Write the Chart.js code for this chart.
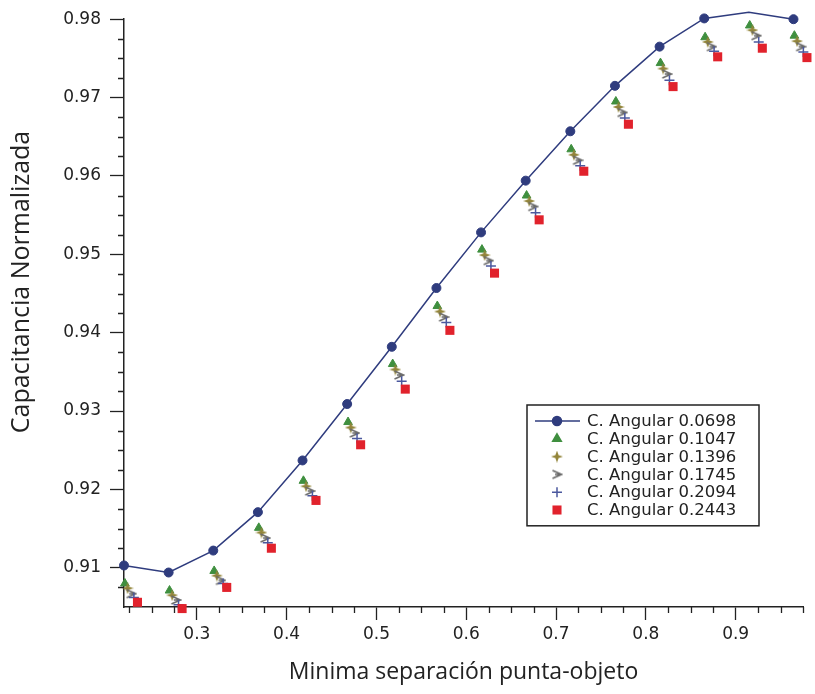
<!DOCTYPE html>
<html>
<head>
<meta charset="utf-8">
<script src="https://cdn.jsdelivr.net/npm/chart.js@4.4.1/dist/chart.umd.min.js"></script>
<style>
  html, body { margin: 0; padding: 0; background: #fff; }
</style>
</head>
<body>
<canvas id="capChart" width="815" height="694"></canvas>
<script>
// Legend labels, one per angular series
const seriesLabels = ['C. Angular 0.0698', 'C. Angular 0.1047', 'C. Angular 0.1396',
                      'C. Angular 0.1745', 'C. Angular 0.2094', 'C. Angular 0.2443'];

// Minima separacion punta-objeto (x) for each series
const sep0698 = [0.2189, 0.2686, 0.3183, 0.3680, 0.4177, 0.4674, 0.5171, 0.5668, 0.6165, 0.6662, 0.7159, 0.7656, 0.8153, 0.8650, 0.9147, 0.9644];
const sep1047 = [0.2199, 0.2696, 0.3193, 0.3690, 0.4187, 0.4684, 0.5181, 0.5678, 0.6175, 0.6672, 0.7169, 0.7666, 0.8163, 0.8660, 0.9157, 0.9654];
const sep1396 = [0.2229, 0.2726, 0.3223, 0.3720, 0.4217, 0.4714, 0.5211, 0.5708, 0.6205, 0.6702, 0.7199, 0.7696, 0.8193, 0.8690, 0.9187, 0.9684];
const sep1745 = [0.2269, 0.2766, 0.3263, 0.3760, 0.4257, 0.4754, 0.5251, 0.5748, 0.6245, 0.6742, 0.7239, 0.7736, 0.8233, 0.8730, 0.9227, 0.9724];
const sep2094 = [0.2299, 0.2796, 0.3293, 0.3790, 0.4287, 0.4784, 0.5281, 0.5778, 0.6275, 0.6772, 0.7269, 0.7766, 0.8263, 0.8760, 0.9257, 0.9754];
const sep2443 = [0.2339, 0.2836, 0.3333, 0.3830, 0.4327, 0.4824, 0.5321, 0.5818, 0.6315, 0.6812, 0.7309, 0.7806, 0.8303, 0.8800, 0.9297, 0.9794];

// Capacitancia normalizada (y) for each series
const cap0698 = [0.9103, 0.9094, 0.9122, 0.9171, 0.9237, 0.9309, 0.9382, 0.9457, 0.9528, 0.9594, 0.9657, 0.9715, 0.9765, 0.9801, 0.9809, 0.9800];
const cap1047 = [0.9080, 0.9071, 0.9096, 0.9151, 0.9211, 0.9286, 0.9360, 0.9434, 0.9506, 0.9575, 0.9634, 0.9695, 0.9744, 0.9777, 0.9792, 0.9779];
const cap1396 = [0.9074, 0.9065, 0.9090, 0.9145, 0.9204, 0.9279, 0.9353, 0.9427, 0.9499, 0.9568, 0.9627, 0.9688, 0.9737, 0.9771, 0.9786, 0.9772];
const cap1745 = [0.9067, 0.9059, 0.9084, 0.9138, 0.9198, 0.9272, 0.9346, 0.9420, 0.9492, 0.9561, 0.9620, 0.9681, 0.9730, 0.9765, 0.9779, 0.9765];
const cap2094 = [0.9062, 0.9053, 0.9080, 0.9132, 0.9192, 0.9265, 0.9338, 0.9413, 0.9485, 0.9553, 0.9613, 0.9674, 0.9722, 0.9759, 0.9771, 0.9758];
const cap2443 = [0.9056, 0.9048, 0.9075, 0.9125, 0.9186, 0.9257, 0.9328, 0.9403, 0.9476, 0.9544, 0.9606, 0.9666, 0.9714, 0.9752, 0.9763, 0.9751];

// Axis ranges, labelled ticks and minor tick steps
const xRange = [0.2189, 0.975];
const yRange = [0.905, 0.98];
const xTickValues = [0.3, 0.4, 0.5, 0.6, 0.7, 0.8, 0.9];
const yTickValues = [0.91, 0.92, 0.93, 0.94, 0.95, 0.96, 0.97, 0.98];
const xMinorStep = 0.025;
const yMinorStep = 0.0025;

// small marker images for the two shapes chart.js does not have
function makeStar(color) {
    const c = document.createElement('canvas');
    c.width = 12; c.height = 12;
    const g = c.getContext('2d');
    g.fillStyle = color;
    g.beginPath();
    g.moveTo(6, 0); g.lineTo(7.6, 4.4); g.lineTo(12, 6); g.lineTo(7.6, 7.6);
    g.lineTo(6, 12); g.lineTo(4.4, 7.6); g.lineTo(0, 6); g.lineTo(4.4, 4.4);
    g.closePath();
    g.fill();
    return c;
}
function makeArrow(color) {
    const c = document.createElement('canvas');
    c.width = 12; c.height = 12;
    const g = c.getContext('2d');
    g.strokeStyle = color;
    g.lineWidth = 1.6;
    g.beginPath();
    g.moveTo(1.5, 2); g.lineTo(10.5, 6); g.lineTo(1.5, 10);
    g.moveTo(4, 6); g.lineTo(10.5, 6);
    g.stroke();
    return c;
}

function pts(xs, ys) {
    return xs.map((x, i) => ({ x: x, y: ys[i] }));
}

function isOn(v, step) {
    const r = v / step;
    return Math.abs(r - Math.round(r)) < 1e-6;
}

// minor ticks are drawn shorter than the labelled ones
const minorTicks = {
    id: 'minorTicks',
    afterDraw(chart) {
        const { ctx, scales: { x, y } } = chart;
        ctx.save();
        ctx.strokeStyle = '#222';
        ctx.lineWidth = 1.3;
        ctx.beginPath();
        for (let i = Math.ceil(xRange[0] / xMinorStep); i * xMinorStep <= xRange[1] + 1e-9; i++) {
            const v = i * xMinorStep;
            if (isOn(v, 0.1)) continue;
            const px = Math.round(x.getPixelForValue(v)) + 0.5;
            ctx.moveTo(px, x.top);
            ctx.lineTo(px, x.top + 6);
        }
        for (let i = Math.ceil(yRange[0] / yMinorStep) + 1; i * yMinorStep <= yRange[1] + 1e-9; i++) {
            const v = i * yMinorStep;
            if (isOn(v, 0.01)) continue;
            const py = Math.round(y.getPixelForValue(v)) + 0.5;
            ctx.moveTo(y.right, py);
            ctx.lineTo(y.right - 6, py);
        }
        ctx.stroke();
        ctx.restore();
    }
};

// y title sits a little above the middle of the axis
const yTitle = {
    id: 'yTitle',
    afterDraw(chart) {
        const ctx = chart.ctx;
        ctx.save();
        ctx.translate(22, 282);
        ctx.rotate(-Math.PI / 2);
        ctx.font = '25px "Open Sans"';
        ctx.fillStyle = '#222';
        ctx.textAlign = 'center';
        ctx.textBaseline = 'middle';
        ctx.fillText('Capacitancia Normalizada', 0, 0);
        ctx.restore();
    }
};

// boxed legend inside the plot, lower right
const boxLegend = {
    id: 'boxLegend',
    afterDraw(chart) {
        const ctx = chart.ctx;
        const left = 527, top = 405, width = 232, rowH = 17.8;
        const height = rowH * seriesLabels.length + 14;
        ctx.save();
        ctx.fillStyle = '#fff';
        ctx.fillRect(left, top, width, height);
        ctx.strokeStyle = '#222';
        ctx.lineWidth = 1.5;
        ctx.strokeRect(left, top, width, height);
        ctx.font = '16.5px "DejaVu Sans"';
        ctx.textBaseline = 'middle';
        chart.data.datasets.forEach((ds, i) => {
            const cy = top + 16 + i * rowH;
            const cx = 557;
            if (ds.showLine) {
                ctx.strokeStyle = ds.borderColor;
                ctx.lineWidth = 1.5;
                ctx.beginPath();
                ctx.moveTo(535, cy);
                ctx.lineTo(580, cy);
                ctx.stroke();
            }
            ctx.fillStyle = ds.pointBackgroundColor;
            ctx.strokeStyle = ds.pointBorderColor;
            Chart.helpers.drawPoint(ctx, {
                pointStyle: ds.pointStyle,
                radius: ds.pointRadius,
                rotation: 0,
                borderWidth: ds.pointBorderWidth
            }, cx, cy);
            ctx.fillStyle = '#222';
            ctx.fillText(seriesLabels[i], 587, cy + 1);
        });
        ctx.restore();
    }
};

const navy = '#2f3c7e';
const ctx = document.getElementById('capChart').getContext('2d');
new Chart(ctx, {
    type: 'scatter',
    data: {
        datasets: [
            { label: seriesLabels[0], data: pts(sep0698, cap0698), showLine: true, borderColor: navy, borderWidth: 1.5,
              pointStyle: 'circle', pointRadius: 4.5, pointBackgroundColor: navy, pointBorderColor: navy, pointBorderWidth: 1, order: 0 },
            { label: seriesLabels[1], data: pts(sep1047, cap1047), pointStyle: 'triangle', pointRadius: 5,
              pointBackgroundColor: '#3f8f3f', pointBorderColor: '#3f8f3f', pointBorderWidth: 1, order: 5 },
            { label: seriesLabels[2], data: pts(sep1396, cap1396), pointStyle: makeStar('#93853a'), pointRadius: 6,
              pointBackgroundColor: '#93853a', pointBorderColor: '#93853a', pointBorderWidth: 1, order: 4 },
            { label: seriesLabels[3], data: pts(sep1745, cap1745), pointStyle: makeArrow('#6a6a6a'), pointRadius: 6,
              pointBackgroundColor: '#6a6a6a', pointBorderColor: '#6a6a6a', pointBorderWidth: 1, order: 3 },
            { label: seriesLabels[4], data: pts(sep2094, cap2094), pointStyle: 'cross', pointRadius: 5,
              pointBackgroundColor: '#4b589e', pointBorderColor: '#4b589e', pointBorderWidth: 1.5, order: 2 },
            { label: seriesLabels[5], data: pts(sep2443, cap2443), pointStyle: 'rect', pointRadius: 6.4,
              pointBackgroundColor: '#e1222c', pointBorderColor: '#e1222c', pointBorderWidth: 0, order: 1 }
        ].map(d => Object.assign({ clip: false, tension: 0 }, d))
    },
    options: {
        responsive: false,
        animation: false,
        layout: { padding: { top: 14, right: 12, left: 0, bottom: 0 } },
        plugins: {
            legend: { display: false },
            tooltip: { enabled: false }
        },
        scales: {
            x: {
                type: 'linear',
                min: xRange[0],
                max: xRange[1],
                afterBuildTicks: (scale) => { scale.ticks = xTickValues.map(v => ({ value: v })); },
                afterFit: (scale) => { scale.height = 87; },
                border: { display: true, color: '#222', width: 1.5 },
                grid: { drawOnChartArea: false, drawTicks: true, tickLength: 13, tickWidth: 1.3, tickColor: '#222' },
                ticks: {
                    autoSkip: false, maxRotation: 0, padding: 4,
                    color: '#222', font: { family: 'DejaVu Sans', size: 17 },
                    callback: (v) => v.toFixed(1)
                },
                title: {
                    display: true, text: 'Minima separación punta-objeto', color: '#222',
                    font: { family: 'Open Sans', size: 23 }, padding: { top: 0, bottom: 8 }
                }
            },
            y: {
                type: 'linear',
                min: yRange[0],
                max: yRange[1],
                afterBuildTicks: (scale) => { scale.ticks = yTickValues.map(v => ({ value: v })); },
                afterFit: (scale) => { scale.width = 124; },
                border: { display: true, color: '#222', width: 1.5 },
                grid: { drawOnChartArea: false, drawTicks: true, tickLength: 14, tickWidth: 1.3, tickColor: '#222' },
                ticks: {
                    autoSkip: false, padding: 9,
                    color: '#222', font: { family: 'DejaVu Sans', size: 17 },
                    callback: (v) => v.toFixed(2)
                },
                title: { display: false }
            }
        }
    },
    plugins: [minorTicks, yTitle, boxLegend]
});
</script>
</body>
</html>
